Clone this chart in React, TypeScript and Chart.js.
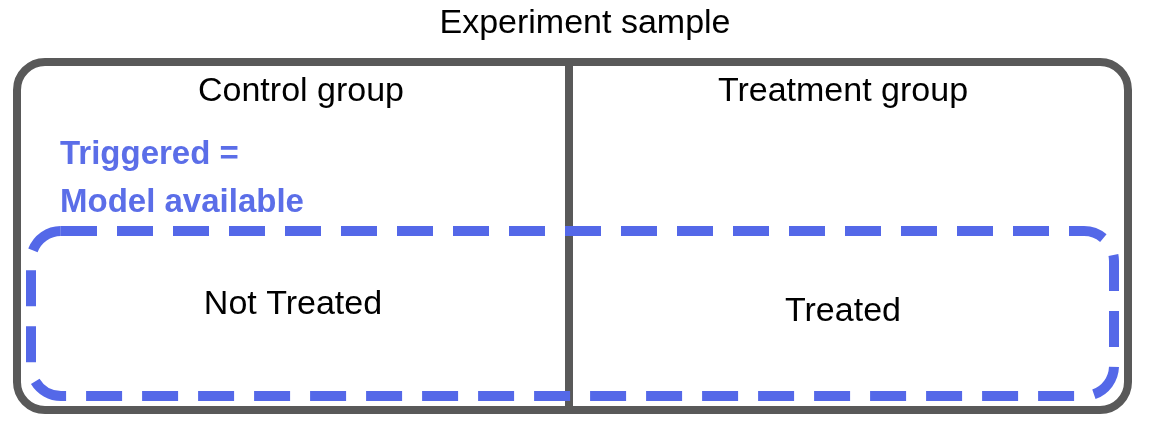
import React, { useEffect, useRef } from "react";
import { Chart, registerables } from "chart.js";

Chart.register(...registerables);

// diagram geometry in the chart's own units (x: 0..1164, y: 0..425 top-down)
const outerBox = [17, 62, 1128, 410];
const dividerX = 569;
const triggeredBox = [31, 231, 1114, 396];
const labels = [
    { text: "Experiment sample", x: 585, y: 24, color: "#000", bold: false },
    { text: "Control group", x: 301, y: 92, color: "#000", bold: false },
    { text: "Treatment group", x: 843, y: 92, color: "#000", bold: false },
    { text: "Not Treated", x: 293, y: 305, color: "#000", bold: false },
    { text: "Treated", x: 843, y: 312, color: "#000", bold: false },
];
const blueLines = ["Triggered =", "Model available"];
const blueLineY = [155, 203];
const blueX = 60;

const diagramPlugin = {
    id: "diagram",
    afterDraw(chart: Chart) {
        const ctx = chart.ctx;
        const xs = chart.scales.x;
        const ys = chart.scales.y;
        const px = (v: number) => xs.getPixelForValue(v);
        const py = (v: number) => ys.getPixelForValue(v);
        ctx.save();

        const rr = (b: number[], r: number) => {
            ctx.beginPath();
            ctx.roundRect(px(b[0]), py(b[1]), px(b[2]) - px(b[0]), py(b[3]) - py(b[1]), r);
        };

        ctx.strokeStyle = "#595959";
        ctx.lineWidth = 8;
        rr(outerBox, 28);
        ctx.stroke();
        ctx.beginPath();
        ctx.moveTo(px(dividerX), py(outerBox[1]));
        ctx.lineTo(px(dividerX), py(outerBox[3]));
        ctx.stroke();

        ctx.strokeStyle = "#5468e8";
        ctx.lineWidth = 10;
        ctx.setLineDash([36, 20]);
        rr(triggeredBox, 30);
        ctx.stroke();
        ctx.setLineDash([]);

        ctx.textBaseline = "middle";
        ctx.textAlign = "center";
        labels.forEach((l) => {
            ctx.fillStyle = l.color;
            ctx.font = `${l.bold ? "bold " : ""}34px "Liberation Sans", Arial, sans-serif`;
            ctx.fillText(l.text, px(l.x), py(l.y));
        });

        ctx.textAlign = "left";
        ctx.fillStyle = "#5b6ee8";
        ctx.font = 'bold 33px "Liberation Sans", Arial, sans-serif';
        blueLines.forEach((t, i) => ctx.fillText(t, px(blueX), py(blueLineY[i])));
        ctx.restore();
    },
};

const App: React.FC = () => {
    const chartRef = useRef<HTMLCanvasElement | null>(null);

    useEffect(() => {
        document.body.style.margin = "0";
        const ctx = chartRef.current?.getContext("2d");
        if (!ctx) return;
        const chart = new Chart(ctx, {
            type: "scatter",
            data: { datasets: [{ data: [] }] },
            options: {
                animation: false,
                responsive: true,
                maintainAspectRatio: false,
                layout: { padding: 0 },
                plugins: { legend: { display: false }, tooltip: { enabled: false } },
                scales: {
                    x: { type: "linear", min: 0, max: 1164, display: false },
                    y: { type: "linear", min: 0, max: 425, reverse: true, display: false },
                },
            },
            plugins: [diagramPlugin],
        });
        return () => chart.destroy();
    }, []);

    return (
        <div style={{ width: 1164, height: 425, background: "#fff" }}>
            <canvas ref={chartRef}></canvas>
        </div>
    );
};

export default App;
